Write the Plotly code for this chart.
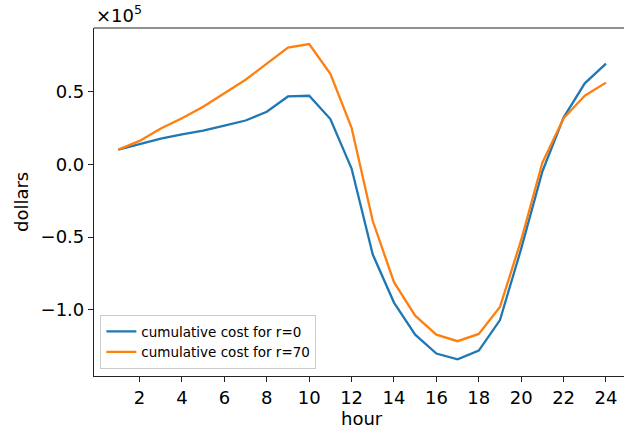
import plotly.graph_objects as go

hours = list(range(1, 25))
cost_r0 = [0.10, 0.14, 0.175, 0.205, 0.23, 0.265, 0.30, 0.36, 0.465, 0.47, 0.31, -0.03,
           -0.62, -0.95, -1.17, -1.30, -1.34, -1.28, -1.07, -0.58, -0.05, 0.32, 0.555, 0.69]
cost_r70 = [0.10, 0.16, 0.245, 0.315, 0.395, 0.485, 0.58, 0.69, 0.80, 0.825, 0.62, 0.25,
            -0.39, -0.81, -1.04, -1.17, -1.215, -1.165, -0.98, -0.52, 0.01, 0.315, 0.47, 0.56]
names = ["cumulative cost for r=0", "cumulative cost for r=70"]
colors = ["#1f77b4", "#ff7f0e"]
x_ticks = list(range(2, 25, 2))
y_ticks = [-1.0, -0.5, 0.0, 0.5]
y_ticktext = ["\u22121.0", "\u22120.5", "0.0", "0.5"]

font = "DejaVu Sans"
fig = go.Figure()
for ys, nm, c in zip([cost_r0, cost_r70], names, colors):
    fig.add_trace(go.Scatter(x=hours, y=ys, mode="lines", name=nm,
                             line=dict(color=c, width=2.3)))

fig.update_layout(
    width=624, height=432,
    margin=dict(l=94, r=0, t=28, b=56),
    paper_bgcolor="white", plot_bgcolor="white",
    font=dict(family=font, color="black", size=18),
    showlegend=True,
    legend=dict(x=0.012, y=0.02, xanchor="left", yanchor="bottom",
                bgcolor="rgba(255,255,255,0.8)", bordercolor="#cccccc", borderwidth=1,
                font=dict(size=13.5, family=font), tracegroupgap=0),
    xaxis=dict(range=[-0.15, 24.85], tickvals=x_ticks, showgrid=False, zeroline=False,
               showline=True, linecolor="#222", linewidth=1.2, ticks="outside",
               ticklen=5, tickwidth=1, tickcolor="#222", tickfont=dict(size=18)),
    yaxis=dict(range=[-1.454, 0.935], tickvals=y_ticks, ticktext=y_ticktext,
               showgrid=False, zeroline=False, showline=True, linecolor="#222",
               linewidth=1.2, ticks="outside", ticklen=5, tickwidth=1, tickcolor="#222",
               tickfont=dict(size=18)),
    shapes=[dict(type="line", xref="paper", yref="paper", x0=0, x1=1, y0=1, y1=1,
                 line=dict(color="#222", width=1.2))],
    annotations=[
        dict(text="hour", xref="paper", yref="paper", x=0.506, y=0, yshift=-30,
             xanchor="center", yanchor="top", showarrow=False, font=dict(size=18)),
        dict(text="dollars", xref="paper", yref="paper", x=0, xshift=-73, y=0.5,
             xanchor="center", yanchor="middle", textangle=-90, showarrow=False,
             font=dict(size=18)),
        dict(text="\u00d710<sup>5</sup>", xref="paper", yref="paper", x=0, y=1,
             xanchor="left", yanchor="bottom", showarrow=False, yshift=0,
             font=dict(size=18)),
    ],
)
fig.write_html("out.html")
